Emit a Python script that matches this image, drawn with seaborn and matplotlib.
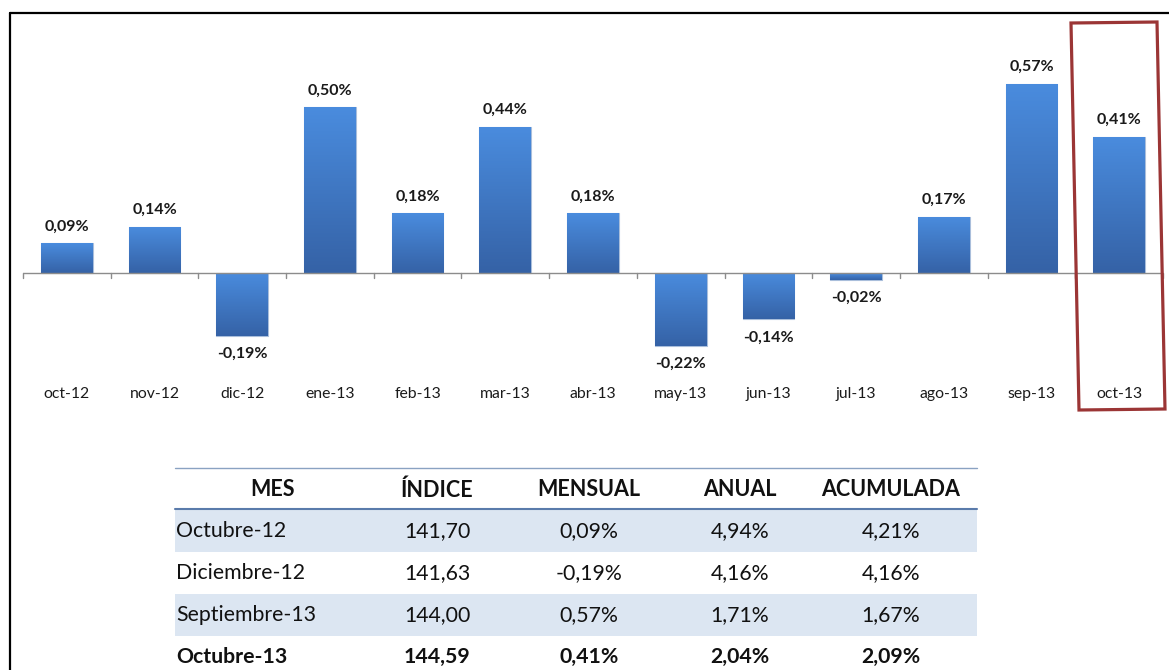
import matplotlib
matplotlib.use("Agg")
import matplotlib.pyplot as plt
import numpy as np
import seaborn as sns
from matplotlib.patches import Rectangle, Polygon
from matplotlib.lines import Line2D

# datos del grafico
meses = ["oct-12", "nov-12", "dic-12", "ene-13", "feb-13", "mar-13", "abr-13",
         "may-13", "jun-13", "jul-13", "ago-13", "sep-13", "oct-13"]
variacion = [0.09, 0.14, -0.19, 0.50, 0.18, 0.44, 0.18, -0.22, -0.14, -0.02, 0.17, 0.57, 0.41]

# datos de la tabla
columnas = ["MES", "ÍNDICE", "MENSUAL", "ANUAL", "ACUMULADA"]
tabla_mes = ["Octubre-12", "Diciembre-12", "Septiembre-13", "Octubre-13"]
tabla_indice = ["141,70", "141,63", "144,00", "144,59"]
tabla_mensual = ["0,09%", "-0,19%", "0,57%", "0,41%"]
tabla_anual = ["4,94%", "4,16%", "1,71%", "2,04%"]
tabla_acumulada = ["4,21%", "4,16%", "1,67%", "2,09%"]

sns.set_theme(style="white")
plt.rcParams['font.family'] = ['Lato', 'DejaVu Sans']

W, H = 1169, 670
fig = plt.figure(figsize=(W / 100, H / 100), dpi=100)

def fx(px):
    return px / W

def fy(py):
    return 1 - py / H

# ejes: baseline en y=273 px, 332 px por 1%
ax = fig.add_axes([fx(23), fy(410), fx(1163) - fx(23), (410 - 30) / H])
sns.barplot(x=meses, y=variacion, color="#4382d4", width=0.59, errorbar=None,
            edgecolor="#a9bedb", linewidth=0.8, ax=ax)

# degradado en las barras
grad = np.linspace(0, 1, 256).reshape(-1, 1)
cmap = matplotlib.colors.LinearSegmentedColormap.from_list("az", ["#4a8cde", "#3562a6"])
for p in ax.patches:
    x0, y0 = p.get_x(), p.get_y()
    w, h = p.get_width(), p.get_height()
    lo, hi = min(y0, y0 + h), max(y0, y0 + h)
    im = ax.imshow(grad, cmap=cmap, aspect="auto", extent=[x0, x0 + w, lo, hi],
                   origin="upper", zorder=p.get_zorder() + 0.1)
    im.set_clip_path(p)

ax.set_xlim(-0.5, 12.5)
ax.set_ylim(-(410 - 273) / 332, (273 - 30) / 332)

for s in ax.spines.values():
    s.set_visible(False)
ax.axhline(0, color="#8c8c8c", lw=1, zorder=5)
ax.set_yticks([])
ax.set_xticks(np.arange(-0.5, 13, 1))
ax.set_xticklabels([])
ax.tick_params(axis="x", bottom=False, length=0)
for b in np.arange(-0.5, 13, 1):
    ax.plot([b, b], [0, -5 / 332], color="#8c8c8c", lw=1, zorder=5, clip_on=False)

for i, v in enumerate(variacion):
    txt = f"{v:.2f}%".replace(".", ",")
    ax.annotate(txt, (i, v), xytext=(0, 12 if v >= 0 else -13), textcoords="offset points",
                ha="center", va="center", fontsize=11.5, fontweight="bold", color="#1a1a1a")
    ax.text(i, -(394 - 273) / 332, meses[i], ha="center", va="center",
            fontsize=11.3, color="#1a1a1a")

# marco
fig.add_artist(Line2D([fx(10), fx(10)], [fy(13), fy(680)], color="black", lw=1.6))
fig.add_artist(Line2D([fx(10), fx(1175)], [fy(13), fy(13)], color="black", lw=1.6))

# recuadro rojo
fig.add_artist(Polygon([(fx(1071), fy(23)), (fx(1157), fy(22)), (fx(1165), fy(409)),
                        (fx(1079), fy(410))], closed=True, fill=False,
                       edgecolor="#9b3535", lw=2.3))

# tabla
x_izq, x_der = 175, 977
fig.add_artist(Line2D([fx(x_izq), fx(x_der)], [fy(468), fy(468)], color="#8aa2c2", lw=1.0))
fil_top = [510, 552, 594, 636]
for k, t in enumerate(fil_top):
    if k % 2 == 0:
        fig.add_artist(Rectangle((fx(x_izq), fy(t + 42)), fx(x_der) - fx(x_izq), 42 / H,
                                 facecolor="#dce6f2", edgecolor="none"))
fig.add_artist(Line2D([fx(x_izq), fx(x_der)], [fy(509), fy(509)], color="#5a7bab", lw=1.5))

col_x = [273, 437, 589, 740, 891]
for c, nombre in zip(col_x, columnas):
    fig.text(fx(c), fy(490), nombre, ha="center", va="center", fontsize=15.5,
             fontweight="bold", color="#111111")

filas = list(zip(tabla_mes, tabla_indice, tabla_mensual, tabla_anual, tabla_acumulada))
for k, fila in enumerate(filas):
    yc = fy(fil_top[k] + 21)
    peso = "bold" if k == len(filas) - 1 else "normal"
    fig.text(fx(176), yc, fila[0], ha="left", va="center", fontsize=15.3,
             fontweight=peso, color="#111111")
    for c, val in zip(col_x[1:], fila[1:]):
        fig.text(fx(c), yc, val, ha="center", va="center", fontsize=15.3,
                 fontweight=peso, color="#111111")

fig.savefig("out.png", dpi=100)
